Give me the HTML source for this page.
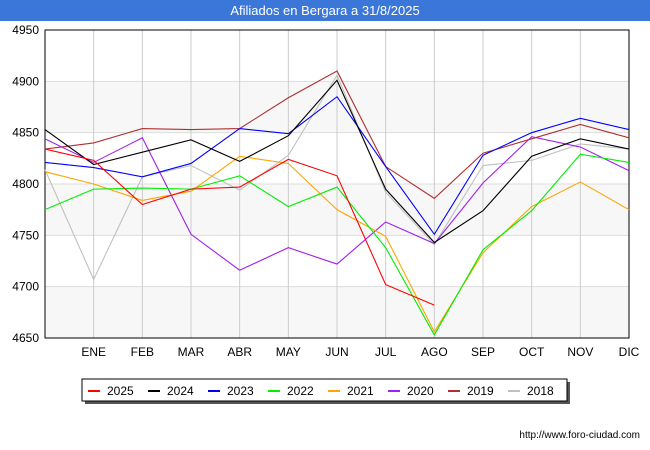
<!DOCTYPE html>
<html><head><meta charset="utf-8"><style>
body{margin:0;width:650px;height:450px;background:#fff;font-family:"Liberation Sans",sans-serif;overflow:hidden}
#title{position:absolute;left:0;top:0;width:650px;height:21px;background:#3a77d8;color:#fff;font-size:13px;text-align:center;line-height:21px}
</style></head><body>
<div id="title">Afiliados en Bergara a 31/8/2025</div>
<svg id="chart" width="650" height="450" style="position:absolute;left:0;top:0"></svg>
<script>
const months=["","ENE","FEB","MAR","ABR","MAY","JUN","JUL","AGO","SEP","OCT","NOV","DIC"];
const yTicks=[4650,4700,4750,4800,4850,4900,4950];
const seriesNames=["2025","2024","2023","2022","2021","2020","2019","2018"];
const colors=["#ff0000","#000000","#0000ff","#00ee00","#ffa500","#a020f0","#b03030","#c0c0c0"];
const s2025=[4834,4823,4780,4795,4797,4824,4808,4702,4682];
const s2024=[4853,4819,4831,4843,4822,4847,4901,4795,4743,4774,4827,4844,4834];
const s2023=[4821,4816,4807,4820,4854,4849,4885,4817,4751,4828,4850,4864,4853];
const s2022=[4775,4795,4796,4795,4808,4778,4797,4738,4653,4736,4774,4829,4821];
const s2021=[4812,4800,4784,4793,4827,4820,4775,4749,4656,4733,4778,4802,4775];
const s2020=[4844,4821,4845,4751,4716,4738,4722,4763,4742,4801,4846,4836,4813];
const s2019=[4834,4840,4854,4853,4854,4884,4910,4817,4786,4830,4844,4858,4845];
const s2018=[4814,4707,4807,4818,4794,4828,4906,4792,4741,4818,4823,4839,4834];
const data=[s2025,s2024,s2023,s2022,s2021,s2020,s2019,s2018];
const L=45,R=629,T=30,B=338,ymin=4650,ymax=4950;
const X=i=>L+i*(R-L)/12, Y=v=>B-(v-ymin)*(B-T)/(ymax-ymin);
const svg=document.getElementById('chart');const NS="http://www.w3.org/2000/svg";
function mk(t,a,p){const e=document.createElementNS(NS,t);for(const k in a)e.setAttribute(k,a[k]);(p||svg).appendChild(e);return e;}
for(let i=0;i<yTicks.length-1;i+=2){const b=mk('rect',{x:L,y:Y(yTicks[i+1]),width:R-L,height:Y(yTicks[i])-Y(yTicks[i+1]),fill:'#f7f7f7'});

}
// actually shaded bands at 4650-4700,4750-4800,4850-4900
yTicks.forEach(v=>{const g=mk('line',{x1:L,x2:R,y1:Y(v),y2:Y(v),stroke:'#dddddd'});


const t=mk('text',{x:L-6,y:Y(v)+4,'text-anchor':'end','font-size':12,fill:'#000'});t.textContent=v;

});
months.forEach((m,i)=>{if(i>0){const g=mk('line',{x1:X(i),x2:X(i),y1:T,y2:B,stroke:'#cccccc'});

}
const t=mk('text',{x:X(i),y:B+18,'text-anchor':'middle','font-size':12,fill:'#000'});t.textContent=m;

});
const fr=mk('rect',{x:L,y:T,width:R-L,height:B-T,fill:'none',stroke:'#000'});


for(let k=data.length-1;k>=0;k--){const p=mk('polyline',{points:data[k].map((v,i)=>X(i)+','+Y(v)).join(' '),fill:'none',stroke:colors[k],'stroke-width':1.1});

}
const lg=mk('g',{});


mk('rect',{x:85,y:382,width:485,height:22,fill:'#555'},lg);
mk('rect',{x:82,y:379,width:485,height:22,fill:'#fff',stroke:'#000'},lg);
seriesNames.forEach((n,k)=>{const x=88+k*60;const e=mk('g',{},lg);


mk('line',{x1:x,x2:x+12,y1:391,y2:391,stroke:colors[k],'stroke-width':2},e);
const t=mk('text',{x:x+19,y:395,'font-size':12,fill:'#000'},e);t.textContent=n;});
const u=mk('text',{x:640,y:438,'text-anchor':'end','font-size':10,fill:'#000'});u.textContent='http://www.foro-ciudad.com';


</script>
</body></html>
